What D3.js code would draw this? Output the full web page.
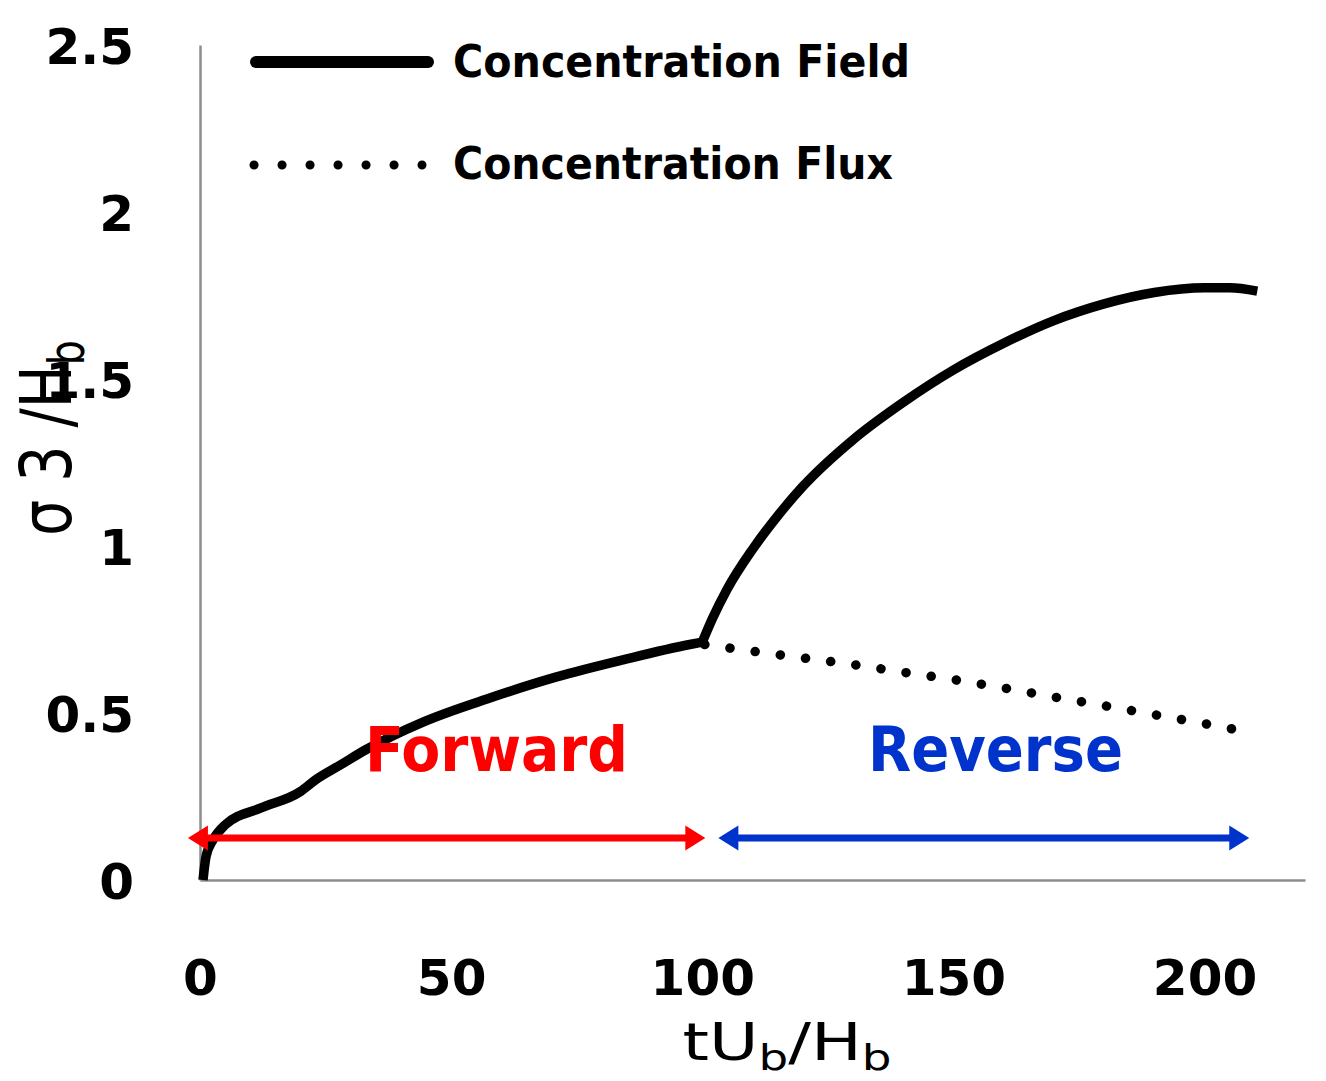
<!DOCTYPE html>
<html>
<head>
<meta charset="utf-8">
<script src="https://cdn.jsdelivr.net/npm/d3@7"></script>
<style>
  html, body { margin: 0; padding: 0; background: #fff; }
  svg { display: block; }
</style>
</head>
<body>
<svg id="chart" width="1326" height="1081"></svg>
<script>
// ---- data ----
const xTicks = [0, 50, 100, 150, 200];
const yTicks = [0, 0.5, 1, 1.5, 2, 2.5];
const yTickLabels = ["0", "0.5", "1", "1.5", "2", "2.5"];

// Concentration Field - forward phase
const fieldFwdT = [0.6, 1.2, 2.6, 5.0, 12.0, 20.0, 23.0, 28.0, 33.0, 44.4, 57.7, 71.0, 84.2, 97.5, 100.0];
const fieldFwdV = [0, 0.07, 0.12, 0.165, 0.215, 0.265, 0.30, 0.345, 0.39, 0.473, 0.545, 0.608, 0.659, 0.705, 0.712];
// Concentration Field - reverse phase
const fieldRevT = [100, 102, 105, 110, 115, 120, 130, 140, 150, 160, 170, 180, 190, 200, 205, 210.5];
const fieldRevV = [0.712, 0.782, 0.872, 0.99, 1.09, 1.178, 1.318, 1.43, 1.527, 1.607, 1.675, 1.725, 1.759, 1.773, 1.773, 1.763];
// Concentration Flux (reverse phase)
const fluxT = [100.5, 110, 120, 130, 140, 150, 160, 170, 180, 190, 200, 209.5];
const fluxV = [0.705, 0.685, 0.665, 0.645, 0.622, 0.600, 0.575, 0.548, 0.522, 0.495, 0.468, 0.441];

const seriesNames = ["Concentration Field", "Concentration Flux"];
const phaseNames = ["Forward", "Reverse"];
const phaseStart = [-2.4, 103.2];
const phaseEnd = [100.6, 208.9];
const phaseLevel = 0.126;
const phaseColors = ["#ff0000", "#0033cc"];

// ---- scales ----
const svg = d3.select("#chart");
const x = d3.scaleLinear().domain([0, 220]).range([200, 1305]);
const y = d3.scaleLinear().domain([0, 2.5]).range([880, 45]);

// ---- axes ----
const axisColor = "#8c8c8c";
const xAxis = svg.append("g").attr("transform", "translate(0,880)")
  .call(d3.axisBottom(x).tickValues(xTicks).tickSize(0).tickPadding(0).tickFormat(d3.format("d")));
xAxis.select(".domain").attr("stroke", axisColor).attr("stroke-width", 2.5);
xAxis.selectAll("text")
  .attr("font-family", "DejaVu Sans").attr("font-weight", "bold").attr("font-size", 50)
  .attr("fill", "#000").attr("dy", null).attr("y", 115);

const yAxis = svg.append("g").attr("transform", "translate(200,0)")
  .call(d3.axisLeft(y).tickValues(yTicks).tickSize(0).tickPadding(0)
    .tickFormat((d, i) => yTickLabels[i]));
yAxis.select(".domain").attr("stroke", axisColor).attr("stroke-width", 2.5);
yAxis.selectAll("text")
  .attr("font-family", "DejaVu Sans").attr("font-weight", "bold").attr("font-size", 50)
  .attr("fill", "#000").attr("x", -66).attr("dy", "0.36em");

// ---- lines ----
const line = d3.line().x(d => x(d[0])).y(d => y(d[1])).curve(d3.curveMonotoneX);
const fwd = fieldFwdT.map((t, i) => [t, fieldFwdV[i]]);
const rev = fieldRevT.map((t, i) => [t, fieldRevV[i]]);
const flux = fluxT.map((t, i) => [t, fluxV[i]]);

svg.append("path").datum(flux).attr("d", line)
  .attr("fill", "none").attr("stroke", "#000").attr("stroke-width", 9.5)
  .attr("stroke-linecap", "round").attr("stroke-dasharray", "0.1 25.3");

[fwd, rev].forEach(seg => {
  svg.append("path").datum(seg).attr("d", line)
    .attr("fill", "none").attr("stroke", "#000").attr("stroke-width", 9.5)
    .attr("stroke-linejoin", "miter").attr("stroke-linecap", "butt");
});

// ---- phase arrows ----
const headL = 20, headH = 12.5;
phaseNames.forEach((n, i) => {
  const y0 = y(phaseLevel);
  const xa = x(phaseStart[i]), xb = x(phaseEnd[i]);
  svg.append("line")
    .attr("x1", xa + headL - 2).attr("x2", xb - headL + 2)
    .attr("y1", y0).attr("y2", y0)
    .attr("stroke", phaseColors[i]).attr("stroke-width", 7);
  svg.append("path")
    .attr("d", `M${xa},${y0} L${xa + headL},${y0 - headH} L${xa + headL},${y0 + headH} Z`)
    .attr("fill", phaseColors[i]);
  svg.append("path")
    .attr("d", `M${xb},${y0} L${xb - headL},${y0 - headH} L${xb - headL},${y0 + headH} Z`)
    .attr("fill", phaseColors[i]);
});

// ---- phase labels ----
const phaseLabelX = [365, 868];
const phaseLabelW = [263, 255];
phaseNames.forEach((n, i) => {
  svg.append("text").text(n)
    .attr("x", phaseLabelX[i]).attr("y", 771)
    .attr("font-family", "DejaVu Sans Condensed, DejaVu Sans").attr("font-weight", "bold")
    .attr("font-size", 62).attr("fill", phaseColors[i])
    .attr("textLength", phaseLabelW[i]).attr("lengthAdjust", "spacingAndGlyphs");
});

// ---- legend ----
const leg = svg.append("g");
leg.append("line").attr("x1", 256).attr("x2", 428).attr("y1", 62).attr("y2", 62)
  .attr("stroke", "#000").attr("stroke-width", 12).attr("stroke-linecap", "round");
leg.append("line").attr("x1", 254).attr("x2", 422).attr("y1", 165).attr("y2", 165)
  .attr("stroke", "#000").attr("stroke-width", 9).attr("stroke-linecap", "round")
  .attr("stroke-dasharray", "0.1 27.9");
const legY = [77, 179];
const legW = [457, 440];
seriesNames.forEach((n, i) => {
  leg.append("text").text(n).attr("x", 453).attr("y", legY[i])
    .attr("font-family", "DejaVu Sans Condensed, DejaVu Sans").attr("font-weight", "bold")
    .attr("font-size", 45).attr("fill", "#000")
    .attr("textLength", legW[i]).attr("lengthAdjust", "spacingAndGlyphs");
});

// ---- axis titles ----
const xt = svg.append("text")
  .attr("transform", "translate(787,1060) scale(1.3,1)")
  .attr("text-anchor", "middle")
  .attr("font-family", "DejaVu Sans").attr("font-size", 52).attr("fill", "#000");
xt.append("tspan").text("tU");
xt.append("tspan").text("b").attr("font-size", 36).attr("dy", 10);
xt.append("tspan").text("/H").attr("dy", -10);
xt.append("tspan").text("b").attr("font-size", 36).attr("dy", 10);

const yt = svg.append("text")
  .attr("transform", "translate(71,438) scale(1.25,1) rotate(-90)")
  .attr("text-anchor", "middle")
  .attr("font-family", "DejaVu Sans").attr("font-size", 57).attr("fill", "#000");
yt.append("tspan").text("σ 3 /H");
yt.append("tspan").text("b").attr("font-size", 40).attr("dy", 10);
</script>
</body>
</html>
